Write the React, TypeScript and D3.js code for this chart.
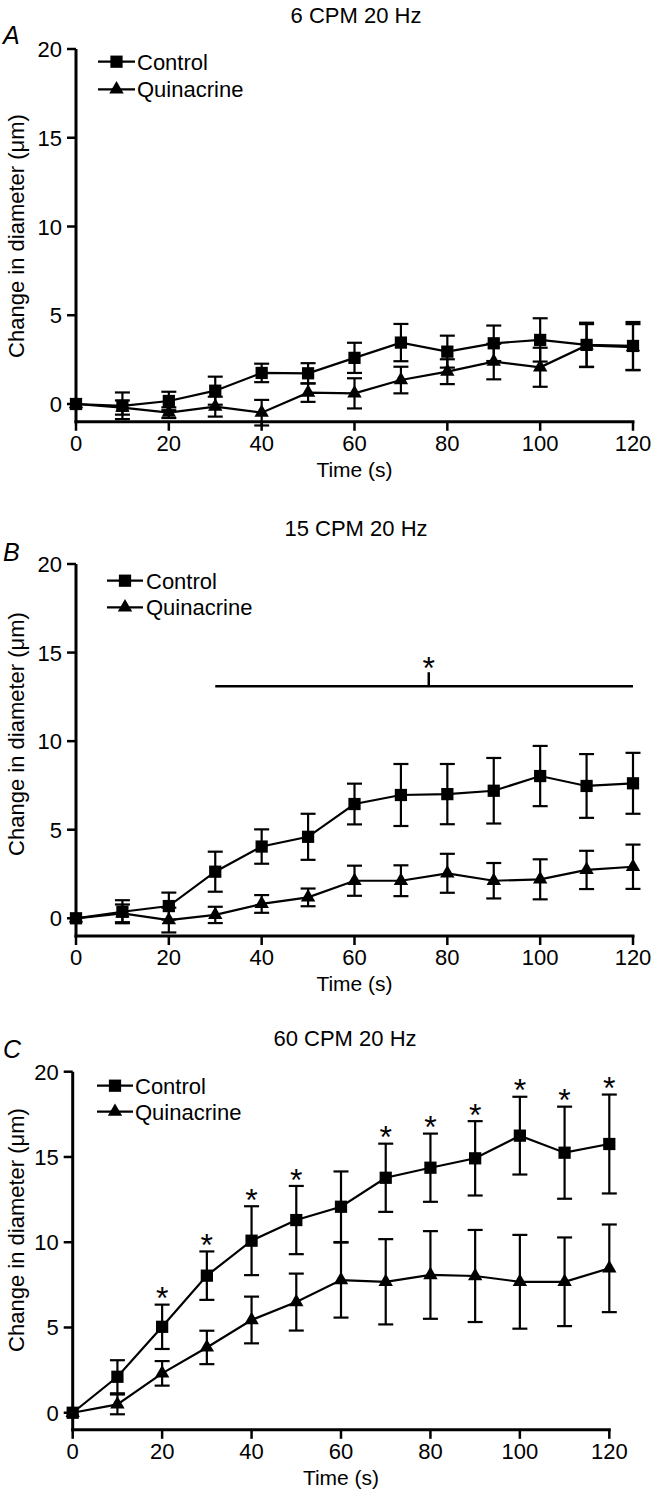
import React from "react";
import * as d3 from "d3";

// ---------- data ----------
const times = [0, 10, 20, 30, 40, 50, 60, 70, 80, 90, 100, 110, 120];
const yTicks = [0, 5, 10, 15, 20];
const xTicks = [0, 20, 40, 60, 80, 100, 120];
const seriesNames = ["Control", "Quinacrine"];
const panelTitles = ["6 CPM 20 Hz", "15 CPM 20 Hz", "60 CPM 20 Hz"];
const panelLetters = ["A", "B", "C"];

const ctrlA = [0, -0.1, 0.17, 0.75, 1.75, 1.73, 2.6, 3.46, 2.95, 3.42, 3.61, 3.33, 3.27];
const ctrlAErr = [0, 0.75, 0.52, 0.79, 0.52, 0.57, 0.85, 1.05, 0.9, 1.0, 1.22, 1.25, 1.35];
const quinA = [0, -0.2, -0.49, -0.15, -0.49, 0.64, 0.6, 1.35, 1.82, 2.39, 2.07, 3.3, 3.2];
const quinAErr = [0, 0.4, 0.3, 0.56, 0.72, 0.52, 0.85, 0.75, 0.7, 1.0, 1.1, 1.2, 1.3];

const ctrlB = [0, 0.37, 0.69, 2.63, 4.05, 4.6, 6.45, 6.96, 7.01, 7.2, 8.03, 7.47, 7.62];
const ctrlBErr = [0, 0.65, 0.76, 1.13, 0.97, 1.3, 1.15, 1.75, 1.7, 1.85, 1.7, 1.8, 1.72];
const quinB = [0, 0.28, -0.1, 0.19, 0.81, 1.18, 2.12, 2.12, 2.54, 2.12, 2.2, 2.73, 2.91];
const quinBErr = [0, 0.5, 0.7, 0.46, 0.5, 0.5, 0.85, 0.87, 1.1, 1.0, 1.13, 1.08, 1.25];
const sigBarB = [30, 120, 13.1]; // from t, to t, level
const sigBarTickB = 76;

const ctrlC = [0, 2.11, 5.04, 8.04, 10.09, 11.3, 12.08, 13.78, 14.37, 14.92, 16.25, 15.25, 15.76];
const ctrlCErr = [0, 0.97, 1.3, 1.42, 2.02, 2.0, 2.07, 2.0, 2.0, 2.18, 2.28, 2.7, 2.9];
const quinC = [0, 0.49, 2.31, 3.83, 5.44, 6.49, 7.78, 7.68, 8.08, 8.02, 7.68, 7.68, 8.47];
const quinCErr = [0, 0.58, 0.72, 0.98, 1.37, 1.67, 2.2, 2.5, 2.57, 2.7, 2.75, 2.6, 2.57];
const starsC = [20, 30, 40, 50, 70, 80, 90, 100, 110, 120];

// ---------- layout ----------
const FONT = "'Liberation Sans', Arial, Helvetica, sans-serif";
const layouts = [
  { x: [76, 633], y: [421.75, 49], titleX: 356, titleY: 23, letterY: 44, labelY: 236, legX: [98, 135], legTextX: 137, legY: [61.7, 89.3] },
  { x: [76, 633], y: [936, 564], titleX: 356, titleY: 536, letterY: 561, labelY: 734, legX: [107, 143], legTextX: 146, legY: [580.7, 607.3] },
  { x: [72.7, 609.3], y: [1429.8, 1071.7], titleX: 345, titleY: 1046, letterY: 1058, labelY: 1230, legX: [97, 133], legTextX: 135, legY: [1085.7, 1111.7] },
];

const panelData = [
  { c: ctrlA, ce: ctrlAErr, q: quinA, qe: quinAErr, stars: [] as number[], sig: null as null | number[] },
  { c: ctrlB, ce: ctrlBErr, q: quinB, qe: quinBErr, stars: [] as number[], sig: sigBarB },
  { c: ctrlC, ce: ctrlCErr, q: quinC, qe: quinCErr, stars: starsC, sig: null as null | number[] },
];

const squarePath = d3.symbol(d3.symbolSquare, 150)() as string;
const trianglePath = d3.symbol(d3.symbolTriangle, 90)() as string;
const STAR = 32;

function Series({ xs, ys, vals, errs, marker }: any) {
  const line = d3
    .line<number>()
    .x((_, i) => xs(times[i]))
    .y((d) => ys(d));
  return (
    <g>
      {vals.map((v: number, i: number) => {
        const e = errs[i];
        if (!e) return null;
        const cx = xs(times[i]);
        const y1 = ys(v + e);
        const y2 = ys(v - e);
        return (
          <g key={i} stroke="#000" strokeWidth={2.2}>
            <line x1={cx} x2={cx} y1={y1} y2={y2} />
            <line x1={cx - 7.5} x2={cx + 7.5} y1={y1} y2={y1} />
            <line x1={cx - 7.5} x2={cx + 7.5} y1={y2} y2={y2} />
          </g>
        );
      })}
      <path d={line(vals) as string} fill="none" stroke="#000" strokeWidth={2.2} />
      {vals.map((v: number, i: number) => (
        <path key={"m" + i} d={marker} transform={`translate(${xs(times[i])},${ys(v)})`} fill="#000" />
      ))}
    </g>
  );
}

function Panel({ idx }: { idx: number }) {
  const L = layouts[idx];
  const D = panelData[idx];
  const xs = d3.scaleLinear().domain([0, 120]).range(L.x);
  const ys = d3.scaleLinear().domain([-1, 20]).range(L.y);
  const axisY = ys(-1);
  const x0 = xs(0);
  return (
    <g fontFamily={FONT} fill="#000">
      <text x={L.titleX} y={L.titleY} fontSize={22} textAnchor="middle">{panelTitles[idx]}</text>
      <text x={3} y={L.letterY} fontSize={25} fontStyle="italic">{panelLetters[idx]}</text>
      <text
        transform={`translate(16,${L.labelY}) rotate(-90)`}
        fontSize={22}
        textAnchor="middle"
        dominantBaseline="central"
      >
        Change in diameter (μm)
      </text>
      {/* axes */}
      <line x1={x0} x2={x0} y1={ys(20)} y2={axisY + 1.5} stroke="#000" strokeWidth={3} />
      <line x1={x0 - 1.5} x2={xs(120) + 1.5} y1={axisY} y2={axisY} stroke="#000" strokeWidth={3} />
      {yTicks.map((t) => (
        <g key={"y" + t}>
          <line x1={x0 - 9} x2={x0} y1={ys(t)} y2={ys(t)} stroke="#000" strokeWidth={2.5} />
          <text x={x0 - 14} y={ys(t) + 8} fontSize={22} textAnchor="end">{t}</text>
        </g>
      ))}
      {xTicks.map((t) => (
        <g key={"x" + t}>
          <line x1={xs(t)} x2={xs(t)} y1={axisY} y2={axisY + 9} stroke="#000" strokeWidth={2.5} />
          <text x={xs(t)} y={axisY + 29} fontSize={22} textAnchor="middle">{t}</text>
        </g>
      ))}
      <text x={xs(60)} y={axisY + 55} fontSize={21} textAnchor="middle">Time (s)</text>
      {/* series */}
      <Series xs={xs} ys={ys} vals={D.q} errs={D.qe} marker={trianglePath} />
      <Series xs={xs} ys={ys} vals={D.c} errs={D.ce} marker={squarePath} />
      {/* stars */}
      {D.stars.map((t) => {
        const i = times.indexOf(t);
        const cy = ys(D.c[i] + D.ce[i]) - 14;
        return (
          <text key={"s" + t} x={xs(t)} y={cy + 0.585 * STAR} fontSize={STAR} textAnchor="middle">*</text>
        );
      })}
      {D.sig && (
        <g>
          <line x1={xs(D.sig[0])} x2={xs(D.sig[1])} y1={ys(D.sig[2])} y2={ys(D.sig[2])} stroke="#000" strokeWidth={2.5} />
          <line x1={xs(sigBarTickB)} x2={xs(sigBarTickB)} y1={ys(D.sig[2])} y2={ys(D.sig[2]) - 14} stroke="#000" strokeWidth={2.5} />
          <text x={xs(sigBarTickB)} y={ys(D.sig[2]) - 26 + 0.585 * STAR} fontSize={STAR} textAnchor="middle">*</text>
        </g>
      )}
      {/* legend */}
      {seriesNames.map((n, k) => (
        <g key={n}>
          <line x1={L.legX[0]} x2={L.legX[1]} y1={L.legY[k]} y2={L.legY[k]} stroke="#000" strokeWidth={2.2} />
          <path
            d={k === 0 ? squarePath : trianglePath}
            transform={`translate(${(L.legX[0] + L.legX[1]) / 2},${L.legY[k]})`}
            fill="#000"
          />
          <text x={L.legTextX} y={L.legY[k] + 8} fontSize={22}>{n}</text>
        </g>
      ))}
    </g>
  );
}

export default function App() {
  return (
    <svg
      width={653}
      height={1492}
      viewBox="0 0 653 1492"
      style={{ position: "absolute", left: 0, top: 0, background: "#fff" }}
    >
      <rect width={653} height={1492} fill="#fff" />
      {[0, 1, 2].map((i) => (
        <Panel key={i} idx={i} />
      ))}
    </svg>
  );
}
